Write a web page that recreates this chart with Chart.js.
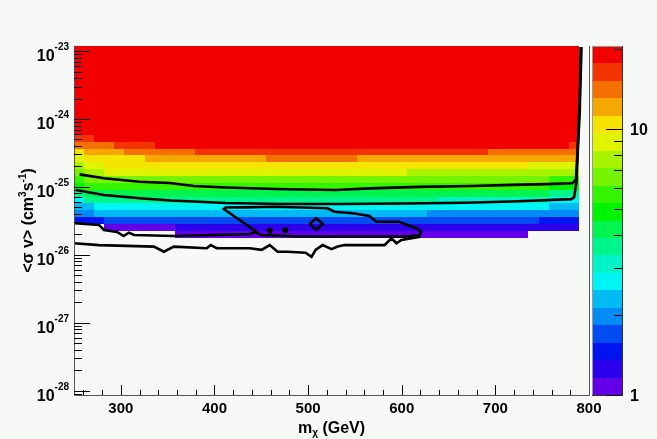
<!DOCTYPE html>
<html>
<head>
<meta charset="utf-8">
<script src="https://cdn.jsdelivr.net/npm/chart.js@4.4.1/dist/chart.umd.min.js"></script>
<style>
  html, body { margin: 0; padding: 0; background: #f6f9f6; }
  #wrap { width: 657px; height: 439px; }
</style>
</head>
<body>
<div id="wrap"><canvas id="c" width="657" height="439"></canvas></div>
<script>
// binning of the scan: mass in GeV, <sigma v> in log10(cm^3 s^-1)
const massMin = 250, massMax = 800, massBins = 51
const logSvMin = -28.065, logSvMax = -22.925, svBins = 51
const zMin = 1, zMax = 20.5
const massTicks = [300, 400, 500, 600, 700, 800]
const svDecades = [-28, -27, -26, -25, -24, -23]
const zLabels = [1, 10]

// 20 colour levels, lowest first
const palette = [
  '#6200e8', '#2c00ea', '#0014f0', '#004cf0', '#008cf4',
  '#00baf4', '#00f4f4', '#00f4c8', '#00f48c', '#00f450',
  '#00f400', '#34f400', '#74f400', '#a8f400', '#e0f400',
  '#f4e400', '#f4a800', '#f47000', '#f43400', '#f20000'
]

// colour level of each cell, row by row from the top: [first mass bin, level], null = empty
const levelRuns = [
  [[0, 19], [50, null]],
  [[0, 19], [50, null]],
  [[0, 19], [50, null]],
  [[0, 19], [50, null]],
  [[0, 19], [50, null]],
  [[0, 19], [50, null]],
  [[0, 19], [50, null]],
  [[0, 19], [50, null]],
  [[0, 19], [50, null]],
  [[0, 19], [50, null]],
  [[0, 19], [50, null]],
  [[0, 19], [50, null]],
  [[0, 19], [50, null]],
  [[0, 18], [2, 19], [50, null]],
  [[0, 17], [4, 18], [8, 19], [49, 18], [50, null]],
  [[0, 15], [1, 16], [5, 17], [12, 18], [41, 17], [50, null]],
  [[0, 14], [1, 15], [7, 16], [19, 17], [28, 16], [50, null]],
  [[0, 13], [1, 14], [3, 15], [45, 14], [50, null]],
  [[0, 12], [1, 13], [3, 14], [33, 13], [50, null]],
  [[0, 11], [1, 12], [47, 11], [50, null]],
  [[0, 10], [1, 11], [47, 10], [50, null]],
  [[0, 8], [1, 9], [47, 8], [50, null]],
  [[0, 6], [1, 8], [36, 7], [47, 6], [50, null]],
  [[0, 5], [2, 6], [47, 5], [50, null]],
  [[0, 4], [2, 5], [35, 4], [50, null]],
  [[0, 2], [3, 3], [46, 2], [50, null]],
  [[0, null], [3, 0], [10, 1], [50, null]],
  [[0, null], [10, 0], [45, null]]
]

// contour lines (mass GeV, <sigma v> cm^3 s^-1)
const contourA_m = [256, 282, 320, 352, 378, 412, 465, 529, 566, 619, 675, 718, 754, 782, 786, 788, 789.5, 791, 792]
const contourA_sv = [1.53e-25, 1.34e-25, 1.19e-25, 1.14e-25, 1.03e-25, 9.8e-26, 9.3e-26, 9.0e-26, 9.5e-26, 1.0e-25, 1.03e-25, 1.07e-25, 1.10e-25, 1.13e-25, 1.26e-25, 3.9e-25, 1.22e-24, 3.75e-24, 1.15e-23]
const contourB_m = [252, 282, 320, 354, 412, 470, 534, 605, 665, 718, 781, 784, 786.6, 788.4, 790.2, 791]
const contourB_sv = [9.0e-26, 7.6e-26, 6.8e-26, 6.3e-26, 5.8e-26, 5.6e-26, 5.6e-26, 5.7e-26, 5.85e-26, 6.1e-26, 6.6e-26, 7.0e-26, 1.19e-25, 4.4e-25, 1.36e-24, 1.15e-23]
const contourC_m = [251, 276.7, 282, 296, 303, 308.6, 314, 356.6, 437.6, 445, 437.6, 410, 412, 432.3, 464.3, 520.8, 528.3, 547.4, 565.6, 573, 597.6, 606, 615.7, 620.5, 619, 605, 491, 450.4, 445]
const contourC_sv = [2.91e-26, 2.75e-26, 2.32e-26, 2.17e-26, 1.89e-26, 2.12e-26, 1.96e-26, 1.89e-26, 2.02e-26, 2.17e-26, 2.57e-26, 4.73e-26, 4.97e-26, 5.0e-26, 5.1e-26, 4.84e-26, 4.31e-26, 4.08e-26, 3.73e-26, 3.07e-26, 3.07e-26, 2.75e-26, 2.46e-26, 2.17e-26, 1.96e-26, 1.86e-26, 1.86e-26, 1.96e-26, 2.09e-26]
const contourD_m = [250, 276.7, 335.3, 346, 356.6, 391.8, 396, 402.5, 437.6, 450.4, 459, 467.5, 478, 497.3, 503.7, 508, 515.5, 525, 531.5, 539, 581.6, 589, 594.4, 599.7, 620]
const contourD_sv = [1.48e-26, 1.39e-26, 1.32e-26, 1.11e-26, 1.32e-26, 1.25e-26, 1.39e-26, 1.25e-26, 1.25e-26, 1.18e-26, 1.39e-26, 1.11e-26, 1.11e-26, 1.07e-26, 9.3e-27, 1.18e-26, 1.39e-26, 1.21e-26, 1.32e-26, 1.39e-26, 1.39e-26, 1.75e-26, 1.48e-26, 1.65e-26, 1.85e-26]
const islandE_m = [501.6, 508.7, 515.8, 508.7, 501.6]
const islandE_sv = [2.84e-26, 3.45e-26, 2.84e-26, 2.34e-26, 2.84e-26]
const dots_m = [459, 475.7]
const dots_sv = [2.26e-26, 2.30e-26]

const bg = '#f6f9f6'
const FONT = '"Liberation Sans", Arial, Helvetica, sans-serif'

function pts(ms, svs) {
  return ms.map((m, i) => ({ x: m, y: svs[i] }))
}

function contour(ms, svs) {
  return {
    data: pts(ms, svs),
    showLine: true,
    borderColor: '#000',
    borderWidth: 2.6,
    pointRadius: 0,
    tension: 0,
    fill: false
  }
}

function drawRich(ctx, parts, x, y, align) {
  let w = 0
  parts.forEach(p => {
    ctx.font = 'bold ' + p[1] + 'px ' + FONT
    w += ctx.measureText(p[0]).width
  })
  let cx = align === 'right' ? x - w : align === 'center' ? x - w / 2 : x
  ctx.textAlign = 'left'
  ctx.textBaseline = 'alphabetic'
  parts.forEach(p => {
    ctx.font = 'bold ' + p[1] + 'px ' + FONT
    ctx.fillText(p[0], cx, y - p[2])
    cx += ctx.measureText(p[0]).width
  })
}

const heatmap = {
  id: 'heatmap',
  beforeDraw(chart) {
    const { ctx, width, height } = chart
    ctx.save()
    ctx.fillStyle = bg
    ctx.fillRect(0, 0, width, height)
    ctx.restore()
  },
  beforeDatasetsDraw(chart) {
    const { ctx, scales: { x, y } } = chart
    const dm = (massMax - massMin) / massBins
    const dl = (logSvMax - logSvMin) / svBins
    ctx.save()
    levelRuns.forEach((runs, r) => {
      const yTop = Math.round(y.getPixelForValue(Math.pow(10, logSvMax - r * dl)))
      const yBot = Math.round(y.getPixelForValue(Math.pow(10, logSvMax - (r + 1) * dl)))
      runs.forEach((run, i) => {
        if (run[1] === null) return
        const end = i + 1 < runs.length ? runs[i + 1][0] : massBins
        const x0 = Math.round(x.getPixelForValue(massMin + run[0] * dm))
        const x1 = Math.round(x.getPixelForValue(massMin + end * dm))
        ctx.fillStyle = palette[run[1]]
        ctx.fillRect(x0, yTop, x1 - x0, yBot - yTop)
      })
    })
    ctx.restore()
  },
  afterDraw(chart) {
    const { ctx, chartArea: a, scales: { x, y, z } } = chart
    ctx.save()

    // frame
    ctx.strokeStyle = '#555'
    ctx.lineWidth = 1
    ctx.beginPath()
    ctx.moveTo(a.left + 0.5, a.top)
    ctx.lineTo(a.left + 0.5, a.bottom + 0.5)
    ctx.lineTo(a.right + 0.5, a.bottom + 0.5)
    ctx.lineTo(a.right + 0.5, a.top)
    ctx.stroke()

    // x ticks
    ctx.strokeStyle = '#000'
    ctx.beginPath()
    for (let m = 260; m < massMax; m += 20) {
      const px = Math.round(x.getPixelForValue(m)) + 0.5
      const len = massTicks.includes(m) ? 10 : 5
      ctx.moveTo(px, a.bottom)
      ctx.lineTo(px, a.bottom - len)
    }
    // y ticks
    const yMin = Math.pow(10, logSvMin), yMax = Math.pow(10, logSvMax)
    for (let d = -29; d <= -23; d++) {
      for (let k = 1; k <= 9; k++) {
        const v = k * Math.pow(10, d)
        if (v < yMin || v > yMax) continue
        const py = Math.round(y.getPixelForValue(v)) + 0.5
        const len = k === 1 ? 16 : 8
        ctx.moveTo(a.left, py)
        ctx.lineTo(a.left + len, py)
      }
    }
    ctx.stroke()

    ctx.fillStyle = '#000'
    // x labels
    massTicks.forEach(m => {
      drawRich(ctx, [[String(m), 15, 0]], x.getPixelForValue(m), 413, 'center')
    })
    // y labels
    svDecades.forEach(d => {
      const py = y.getPixelForValue(Math.pow(10, d))
      drawRich(ctx, [['10', 16, 0], [String(d), 10, 11]], 69, py + 10, 'right')
    })
    // axis titles
    drawRich(ctx, [['m', 16, 0], ['\u03c7', 10, -3], [' (GeV)', 16, 0]], (a.left + a.right) / 2, 433, 'center')
    ctx.save()
    ctx.translate(33, (a.top + a.bottom) / 2)
    ctx.rotate(-Math.PI / 2)
    drawRich(ctx, [['<\u03c3 v> (cm', 16, 0], ['3', 10, 7], ['s', 16, 0], ['-1', 10, 7], [')', 16, 0]], 0, 0, 'center')
    ctx.restore()

    // colour bar
    const bx0 = z.left + 3, bx1 = z.left + 33
    const L = Math.log10(zMax / zMin)
    for (let k = 0; k < palette.length; k++) {
      const t = Math.round(z.getPixelForValue(zMin * Math.pow(10, (k + 1) * L / palette.length)))
      const b = Math.round(z.getPixelForValue(zMin * Math.pow(10, k * L / palette.length)))
      ctx.fillStyle = palette[k]
      ctx.fillRect(bx0, t, bx1 - bx0, b - t)
    }
    ctx.strokeStyle = '#999'
    ctx.strokeRect(bx0 + 0.5, a.top + 0.5, bx1 - bx0, a.bottom - a.top)
    ctx.strokeStyle = '#333'
    ctx.beginPath()
    ctx.moveTo(bx1 + 0.5, a.top)
    ctx.lineTo(bx1 + 0.5, a.bottom + 0.5)
    ctx.lineTo(bx0, a.bottom + 0.5)
    ctx.stroke()
    ctx.strokeStyle = '#000'
    ctx.beginPath()
    for (let k = 1; k <= 20; k++) {
      if (k > zMax) break
      const py = Math.round(z.getPixelForValue(k)) + 0.5
      const len = (k === 1 || k === 10) ? 16 : 8
      if (k > 10 && k !== 20) continue
      ctx.moveTo(bx1, py)
      ctx.lineTo(bx1 - len, py)
    }
    ctx.stroke()
    ctx.fillStyle = '#000'
    zLabels.forEach(v => {
      drawRich(ctx, [[String(v), 16, 0]], bx1 + 8, z.getPixelForValue(v) + 6, 'left')
    })
    ctx.restore()
  }
}

new Chart(document.getElementById('c'), {
  type: 'scatter',
  data: {
    datasets: [
      contour(contourA_m, contourA_sv),
      contour(contourB_m, contourB_sv),
      contour(contourC_m, contourC_sv),
      contour(contourD_m, contourD_sv),
      contour(islandE_m, islandE_sv),
      {
        data: pts(dots_m, dots_sv),
        pointRadius: 2.6,
        pointBackgroundColor: '#000',
        pointBorderColor: '#000',
        showLine: false
      }
    ]
  },
  options: {
    responsive: false,
    animation: false,
    devicePixelRatio: 1,
    layout: { padding: { top: 46, left: 0, right: 0, bottom: 0 } },
    plugins: { legend: { display: false }, tooltip: { enabled: false } },
    scales: {
      x: {
        type: 'linear', min: massMin, max: massMax,
        ticks: { display: false }, grid: { display: false }, border: { display: false },
        afterFit: s => { s.height = 44 }
      },
      y: {
        type: 'logarithmic', position: 'left',
        min: Math.pow(10, logSvMin), max: Math.pow(10, logSvMax),
        ticks: { display: false }, grid: { display: false }, border: { display: false },
        afterFit: s => { s.width = 74 }
      },
      z: {
        type: 'logarithmic', position: 'right', axis: 'y',
        min: zMin, max: zMax,
        ticks: { display: false }, grid: { display: false }, border: { display: false },
        afterFit: s => { s.width = 68 }
      }
    }
  },
  plugins: [heatmap]
})
</script>
</body>
</html>
